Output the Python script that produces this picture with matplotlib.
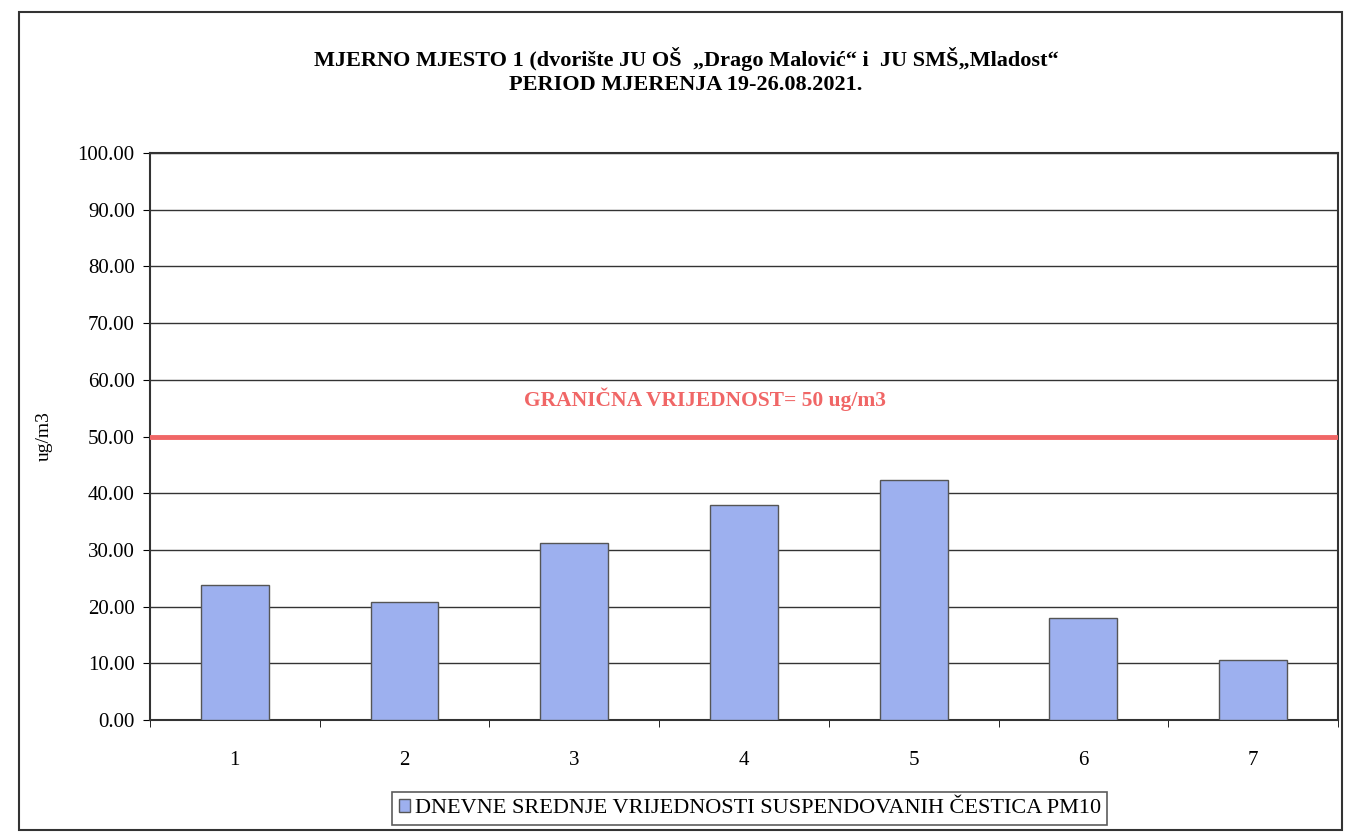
import matplotlib.pyplot as plt
from matplotlib.patches import Rectangle

plt.rcParams['font.family'] = ['Liberation Serif', 'DejaVu Serif']

days = [1, 2, 3, 4, 5, 6, 7]
pm10 = [23.8, 20.8, 31.3, 38.0, 42.3, 18.0, 10.5]
limit_value = 50
y_ticks = [0, 10, 20, 30, 40, 50, 60, 70, 80, 90, 100]

title = ('MJERNO MJESTO 1 (dvorište JU OŠ  „Drago Malović“ i  JU SMŠ„Mladost“\n'
         'PERIOD MJERENJA 19-26.08.2021.')
series_label = 'DNEVNE SREDNJE VRIJEDNOSTI SUSPENDOVANIH ČESTICA PM10'
limit_label = 'GRANIČNA VRIJEDNOST= 50 ug/m3'

fig = plt.figure(figsize=(13.45, 8.35), dpi=100)
ax = fig.add_axes([0.1115, 0.1377, 0.8833, 0.679])

# outer chart frame
fig.patches.append(Rectangle((0.014, 0.006), 0.984, 0.98, transform=fig.transFigure,
                             fill=False, edgecolor='#333333', linewidth=1.5))

ax.bar(days, pm10, width=0.4, color='#9db0ef', edgecolor='#555555',
       linewidth=1.0, zorder=3, label=series_label)
ax.axhline(limit_value, color='#f06666', linewidth=3.5, zorder=4)
ax.text(3.77, 56.5, limit_label, color='#f06666', fontsize=15.5, fontweight='bold',
        ha='center', va='center')

ax.set_xlim(0.5, 7.5)
ax.set_ylim(0, 100)
ax.set_yticks(y_ticks)
ax.set_yticklabels([f'{v:.2f}' for v in y_ticks], fontsize=15)
ax.yaxis.grid(True, color='#333333', linewidth=1.0, zorder=0)
ax.set_xticks(days)
ax.set_xticklabels([str(d) for d in days], fontsize=15)
ax.set_xticks([d + 0.5 for d in range(0, 8)], minor=True)
ax.tick_params(axis='x', which='major', length=0, pad=22)
ax.tick_params(axis='x', which='minor', length=5, direction='out')
ax.tick_params(axis='y', length=5, direction='out', pad=6)
ax.set_ylabel('ug/m3', fontsize=14, labelpad=18)

for s in ax.spines.values():
    s.set_color('#333333')
    s.set_linewidth(1.5)

fig.text(0.51, 0.915, title, ha='center', va='center', fontsize=16,
         fontweight='bold', linespacing=1.3)

leg = ax.legend(loc='upper center', bbox_to_anchor=(0.505, -0.108), frameon=True,
                fancybox=False, edgecolor='#333333', fontsize=16,
                handlelength=0.5, handleheight=0.5, handletextpad=0.2,
                borderpad=0.3)
leg.get_frame().set_linewidth(1.2)

fig.savefig('out.png', dpi=100)
